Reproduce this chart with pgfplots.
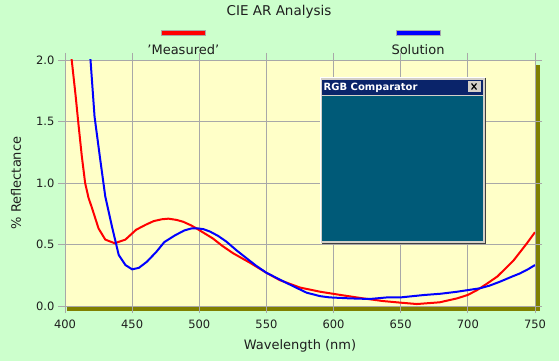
\documentclass[border=0pt]{standalone}
\usepackage{pgfplots}
\pgfplotsset{compat=1.18}
\usepackage{fontspec}
\setmainfont{DejaVu Sans}
\definecolor{bggreen}{RGB}{204,255,204}
\definecolor{plotyellow}{RGB}{255,255,200}
\definecolor{gridgray}{RGB}{168,168,168}
\definecolor{shadowolive}{RGB}{128,128,0}
\definecolor{winteal}{RGB}{0,90,120}
\definecolor{winnavy}{RGB}{10,36,106}
\definecolor{winframe}{RGB}{212,208,200}
\definecolor{txt}{RGB}{30,30,30}
\begin{document}
\begin{tikzpicture}[x=1pt,y=1pt]
\useasboundingbox (0,0) rectangle (559,361);
\fill[bggreen] (0,0) rectangle (559,361);
% shadow
\fill[shadowolive] (67,50) rectangle (540,55);
\fill[shadowolive] (535,50) rectangle (540,296);
\begin{axis}[
  at={(65pt,55pt)}, anchor=south west,
  scale only axis, width=470pt, height=246pt,
  xmin=400, xmax=750, ymin=0, ymax=2,
  xtick={400,450,500,550,600,650,700,750},
  ytick={0,0.5,1,1.5,2},
  /pgf/number format/assume math mode=true,
  yticklabel style={/pgf/number format/.cd, fixed, fixed zerofill, precision=1},
  ticklabel style={font=\fontsize{11.5}{13}\selectfont, text=txt},
  xticklabel style={yshift=-3pt},
  grid=major,
  grid style={color=gridgray, line width=0.8pt},
  axis line style={gridgray, line width=0.8pt},
  tick style={gridgray, line width=0.8pt},
  tick align=outside, major tick length=7pt,
  axis background/.style={fill=plotyellow},
  clip=true,
]
\addplot[red, line width=2pt] coordinates {
(403,2.2) (405,2.0) (408,1.70) (410,1.48) (412.5,1.22) (415,1.0) (417.5,0.88) (420,0.80) (425,0.63) (430,0.54) (437,0.51)
(445,0.54) (453,0.62) (460,0.66) (466,0.69) (472,0.705) (477,0.71) (483,0.70)
(488,0.685) (494,0.655) (498,0.63) (504,0.59) (510,0.55) (517,0.49) (525,0.43)
(538,0.35) (550,0.27) (560,0.21) (575,0.15) (590,0.116) (605,0.09) (622,0.062)
(637,0.04) (650,0.027) (662,0.016) (679,0.03) (692,0.062) (700,0.09) (707,0.13)
(714,0.18) (722,0.24) (734,0.37) (744,0.51) (750,0.6)
};
\addplot[blue, line width=2pt] coordinates {
(418,2.15) (419,2.0) (422,1.54) (426,1.21) (430,0.89) (435,0.645) (440,0.415)
(445,0.333) (450,0.298) (455,0.31) (461,0.36) (468,0.44) (474,0.52) (482,0.575)
(489,0.615) (494,0.63) (498,0.632) (503,0.625) (508,0.605) (514,0.57) (520,0.525)
(528,0.45) (535,0.39) (542,0.33) (550,0.27) (563,0.198) (572,0.15) (580,0.108)
(590,0.08) (597,0.07) (612,0.062) (627,0.057) (640,0.07) (650,0.07) (667,0.089)
(680,0.1) (692,0.116) (709,0.144) (716,0.165) (724,0.198) (732,0.235) (739,0.266)
(745,0.3) (750,0.333)
};
\end{axis}
% axis labels
\node[font=\fontsize{13}{15}\selectfont, text=txt] at (300,15) {Wavelength (nm)};
\node[font=\fontsize{13}{15}\selectfont, text=txt, rotate=90] at (16,178) {\% Reflectance};
% title
\node[font=\fontsize{13.5}{16}\selectfont, text=txt] at (279,349) {CIE AR Analysis};
% legend
\filldraw[fill=red, draw=gridgray, line width=0.6pt] (161.5,325.5) rectangle (205.5,331);
\node[font=\fontsize{13}{15}\selectfont, text=txt] at (183.3,311.5) {'Measured'};
\filldraw[fill=blue, draw=gridgray, line width=0.6pt] (396.5,325.5) rectangle (440.5,331);
\node[font=\fontsize{13}{15}\selectfont, text=txt] at (418,311.5) {Solution};
% RGB comparator window
\fill[black!75] (321.5,117) rectangle (486,283);
\fill[winframe] (320,118) rectangle (485,284);
\fill[white] (320,118) rectangle (321,284);
\fill[white] (320,283) rectangle (485,284);
\fill[winnavy] (322,266) rectangle (483,281);
\fill[winframe] (322,265) rectangle (483,266);
\fill[winteal] (322,120) rectangle (483,265);
\node[font=\bfseries\fontsize{10}{12}\selectfont, text=white, anchor=west, inner sep=0pt] at (323.5,273.5) {RGB Comparator};
\fill[black!70] (468.5,268.5) rectangle (481,279.5);
\fill[winframe] (468,269) rectangle (480.5,280);
\draw[black, line width=1.2pt] (471.5,271.5) -- (476.5,277.5) (471.5,277.5) -- (476.5,271.5);
\end{tikzpicture}
\end{document}
